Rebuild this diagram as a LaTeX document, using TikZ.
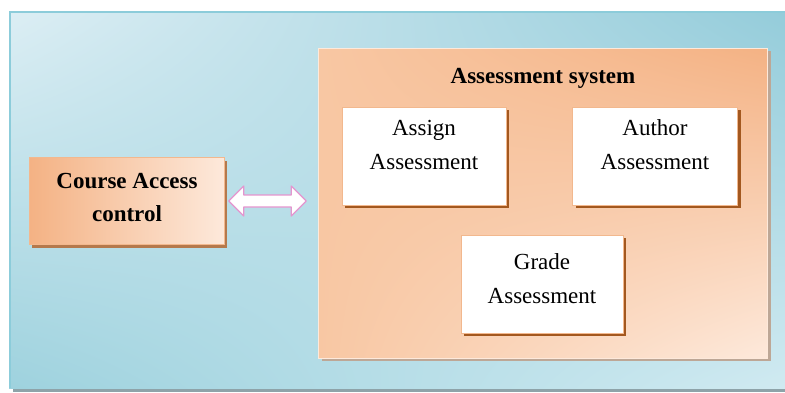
\documentclass[tikz,border=0pt]{standalone}
\usepackage{fontspec}
\setmainfont{Liberation Serif}
\usepackage{xcolor}
\usepackage{tikz}
\usetikzlibrary{calc,shadows,shadings}
\definecolor{skylight}{HTML}{DCEEF4}
\definecolor{skypale}{HTML}{D0EAF1}
\definecolor{skydeep}{HTML}{94CCDA}
\definecolor{skyleft}{HTML}{9ED2DE}
\definecolor{skyrim}{HTML}{8CCCDA}
\definecolor{floorgray}{HTML}{8EA3A9}
\definecolor{peachdeep}{HTML}{F4B284}
\definecolor{peachmid}{HTML}{F8C7A3}
\definecolor{peachlight}{HTML}{FDE9DB}
\definecolor{peachedge}{HTML}{F2B88E}
\definecolor{rustshadow}{HTML}{A3581F}
\definecolor{arrowpink}{HTML}{E595CF}

\begin{document}
\begin{tikzpicture}[x=1pt, y=-1pt,
    sysbox/.style={draw=peachlight, line width=0.6pt, upper left=peachmid, upper right=peachdeep,
        lower left=peachmid, lower right=peachlight,
        drop shadow={shadow xshift=3pt, shadow yshift=-3pt, fill=gray!50!rustshadow!60, opacity=1}},
    cacbox/.style={draw=peachedge, line width=0.6pt, left color=peachdeep, right color=peachlight,
        drop shadow={shadow xshift=2pt, shadow yshift=-3pt, fill=rustshadow!80, opacity=1}},
    subbox/.style={draw=peachedge, line width=0.8pt, fill=white,
        drop shadow={shadow xshift=3pt, shadow yshift=-3pt, fill=rustshadow, opacity=1}},
    boldtext/.style={font=\fontsize{23}{33}\selectfont\bfseries, align=center},
    subtext/.style={font=\fontsize{23}{34}\selectfont, align=center},
    linkarrow/.style={draw=arrowpink, line width=1.2pt, fill=white, line join=round}]
    \useasboundingbox (0,0) rectangle (785,392);

    % Backdrop
    \shade[upper left=skylight, upper right=skydeep, lower left=skyleft, lower right=skypale]
        (9,11) rectangle (785,388);
    \draw[skyrim, line width=1.5pt] (9.75,388) -- (9.75,11.75) -- (785,11.75);
    \fill[floorgray] (13,389) rectangle (785,392);

    % Assessment system
    \node[sysbox, minimum width=449, minimum height=310] (sys) at (543,203) {};
    \node[boldtext] (systitle) at (543,78) {Assessment system};

    % Inner boxes
    \node[subbox, minimum width=164, minimum height=98] (assign) at (424,156) {};
    \node[subtext] (assigntxt) at (424,145) {Assign\\Assessment};
    \node[subbox, minimum width=165, minimum height=98] (author) at (655,156) {};
    \node[subtext] (authortxt) at (655,145) {Author\\Assessment};
    \node[subbox, minimum width=162, minimum height=98] (grade) at (542,284) {};
    \node[subtext] (gradetxt) at (542,279) {Grade\\Assessment};

    % Course access
    \node[cacbox, minimum width=195, minimum height=87] (cac) at (127,201) {};
    \node[boldtext] (cactxt) at (127,197) {Course Access\\control};

    % Link between the two
    \coordinate (al) at ($(cac.east)+(4,0)$);
    \coordinate (ar) at ($(sys.west |- al)+(-12,0)$);
    \draw[linkarrow] (al) -- ++(15,-15) -- ++(0,9) -- ($(ar)+(-15,-6)$) -- ++(0,-9) -- (ar)
        -- ++(-15,15) -- ++(0,-9) -- ($(al)+(15,6)$) -- ++(0,9) -- cycle;
\end{tikzpicture}
\end{document}
